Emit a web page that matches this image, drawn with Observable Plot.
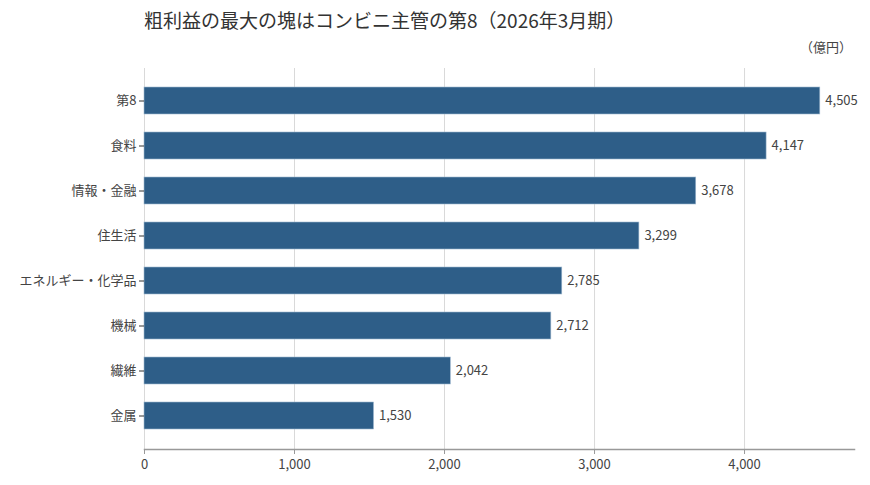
<!DOCTYPE html>
<html><head><meta charset="utf-8">
<script src="https://cdn.jsdelivr.net/npm/d3@7"></script>
<script src="https://cdn.jsdelivr.net/npm/@observablehq/plot@0.6"></script>
<style>
body{margin:0;background:#fff;font-family:"Noto Sans CJK JP","Noto Sans",sans-serif;}
#wrap{position:relative;width:870px;height:485px;}
#title{position:absolute;left:144px;top:6px;font-size:19px;color:#333;}
#unit{position:absolute;right:18px;top:37px;font-size:13px;color:#444;}
#chart{position:absolute;left:0;top:60px;}
</style></head><body>
<div id="wrap">
<div id="title">粗利益の最大の塊はコンビニ主管の第8（2026年3月期）</div>
<div id="unit">（億円）</div>
<div id="chart"></div>
</div>
<script>
const categories = ["第8","食料","情報・金融","住生活","エネルギー・化学品","機械","繊維","金属"];
const values = [4505,4147,3678,3299,2785,2712,2042,1530];
const xTicks = [0,1000,2000,3000,4000];
const data = categories.map((c,i)=>({cat:c, value:values[i]}));
const fmt = d3.format(",");
const plot = Plot.plot({
  width:870, height:425,
  marginLeft:144, marginRight:16, marginTop:8, marginBottom:36,
  style:{fontFamily:'"Noto Sans CJK JP","Noto Sans",sans-serif', fontSize:"13px", color:"#444"},
  x:{domain:[0,4733], ticks:xTicks, tickFormat:fmt, label:null},
  y:{domain:categories, padding:0.39, label:null},
  marks:[
    Plot.gridX(xTicks,{stroke:"#d9d9d9", strokeOpacity:1}),
    Plot.barX(data,{x:"value", y:"cat", fill:"#2e5e88", stroke:"#9fb8cf", strokeWidth:0.6}),
    Plot.text(data,{x:"value", y:"cat", text:d=>fmt(d.value), dx:5, textAnchor:"start", fill:"#444", fontSize:13}),
    Plot.axisX({ticks:xTicks, tickFormat:fmt, tickSize:5, stroke:"#999", fill:"#444", fontSize:13, tickPadding:5, label:null}),
    Plot.axisY({tickSize:5, stroke:"#333", fill:"#444", fontSize:13, tickPadding:3, label:null}),
    Plot.frame({anchor:"bottom", stroke:"#999", strokeWidth:1.5})
  ]
});
document.getElementById("chart").appendChild(plot);
</script>
</body></html>
